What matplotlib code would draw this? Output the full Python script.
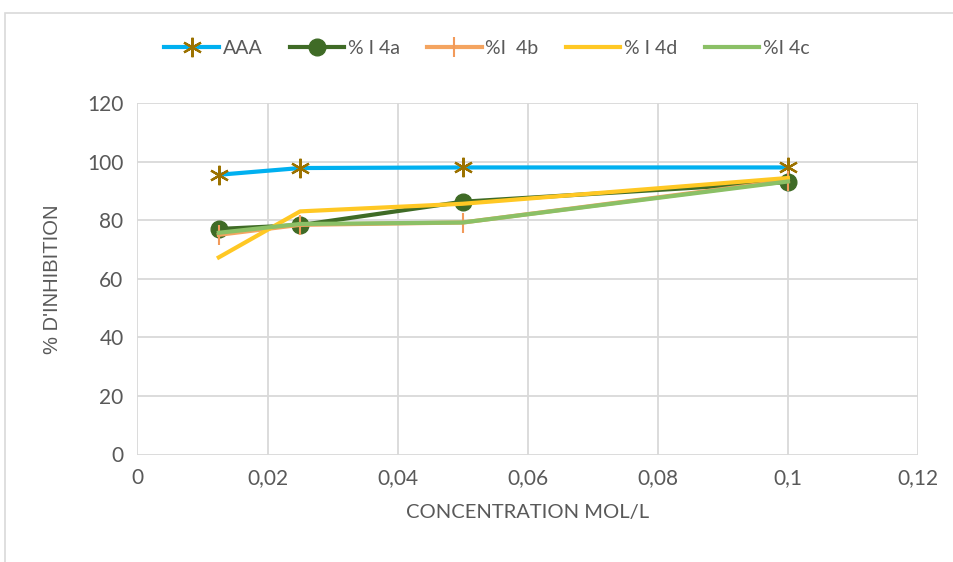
import matplotlib
matplotlib.use("Agg")
import matplotlib.pyplot as plt
from matplotlib.patches import Rectangle
from matplotlib.ticker import FuncFormatter

# Concentrations (mol/L) and inhibition percentages
concentration = [0.0125, 0.025, 0.05, 0.1]
aaa = [95.5, 97.8, 98.0, 98.0]
i4a = [77.0, 78.3, 86.3, 93.0]
i4b = [75.0, 78.4, 79.2, 93.5]
i4d = [67.3, 83.0, 85.6, 94.4]
i4c = [75.7, 78.7, 79.2, 93.2]

x_ticks = [0, 0.02, 0.04, 0.06, 0.08, 0.1, 0.12]
y_ticks = [0, 20, 40, 60, 80, 100, 120]

W, H = 954, 562
fig = plt.figure(figsize=(W / 100, H / 100), dpi=100)

# outer chart frame (runs past the right and bottom edges)
fig.patches.append(Rectangle((5 / W, -0.5), 2, 0.5 + (H - 13) / H, transform=fig.transFigure,
                             fill=False, edgecolor="#d9d9d9", linewidth=1.2))

ax = fig.add_axes([137.5 / W, (H - 454.5) / H, (918 - 137.5) / W, (454.5 - 103) / H])

text_color = "#595959"
tick_font = "Lato"

ax.plot(concentration, aaa, color="#00b0f0", linewidth=3, marker=(6, 2, 0),
        markersize=14, markeredgecolor="#9c7200", markeredgewidth=1.6, label="AAA", zorder=3)
ax.plot(concentration, i4a, color="#3f6b26", linewidth=3, marker="o",
        markersize=12, markerfacecolor="#3f6b26", markeredgecolor="#3f6b26",
        label="% I 4a", zorder=4)
ax.plot(concentration, i4b, color="#f4a460", linewidth=3, marker="|",
        markersize=14, markeredgewidth=1.5, markeredgecolor="#f29a5a",
        label="%I  4b", zorder=5)
ax.plot(concentration, i4d, color="#ffc824", linewidth=3, label="% I 4d", zorder=6)
ax.plot(concentration, i4c, color="#8bc066", linewidth=3, label="%I 4c", zorder=7)

ax.set_xlim(0, 0.12)
ax.set_ylim(0, 120)
ax.set_xticks(x_ticks)
ax.set_yticks(y_ticks)


def fmt_x(v, pos):
    if v == 0:
        return "0"
    return ("%g" % round(v, 3)).replace(".", ",")


ax.xaxis.set_major_formatter(FuncFormatter(fmt_x))
ax.grid(True, color="#d9d9d9", linewidth=1.3)
ax.set_axisbelow(True)
for side in ["left", "right", "top", "bottom"]:
    ax.spines[side].set_visible(False)
ax.tick_params(axis="both", length=0, labelsize=15, labelcolor=text_color, pad=10)
for lbl in ax.get_xticklabels() + ax.get_yticklabels():
    lbl.set_family(tick_font)

ax.set_xlabel("CONCENTRATION MOL/L", fontsize=14.5, color=text_color, family="Lato", labelpad=11)
ax.set_ylabel("% D'INHIBITION", fontsize=14.5, color=text_color,
              family="Liberation Sans", labelpad=18)

leg = fig.legend(loc="center", bbox_to_anchor=(487 / W, 1 - 48 / H), ncol=5,
                 frameon=False, prop={"family": "Lato", "size": 14},
                 handlelength=2.8, columnspacing=1.4, handletextpad=0.2)
for t in leg.get_texts():
    t.set_color(text_color)

fig.savefig("out.png", dpi=100)
